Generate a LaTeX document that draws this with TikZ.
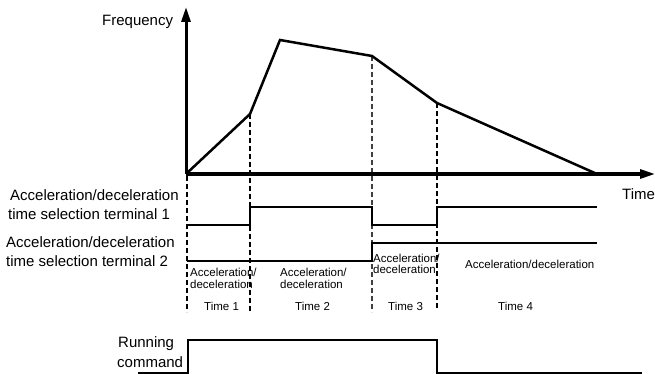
\documentclass[tikz,border=0pt]{standalone}
\usepackage{fontspec}
\setmainfont{Liberation Sans}
\usetikzlibrary{arrows.meta}
\tikzset{
  axis/.style={line width=3pt,-{Triangle[length=15pt,width=9pt]}},
  curve/.style={line width=2.5pt,line join=miter},
  guide/.style={line width=2pt,dash pattern=on 5pt off 3pt},
  guidegray/.style={line width=1.6pt,dash pattern=on 5pt off 3pt,black!75},
  sig/.style={line width=1.5pt},
  big/.style={inner sep=0pt,anchor=base west,font=\fontsize{15}{18}\selectfont},
  small/.style={inner sep=0pt,anchor=base west,font=\fontsize{11.5}{13}\selectfont},
}
\begin{document}
\begin{tikzpicture}[x=1pt,y=-1pt]
\useasboundingbox (0,0) rectangle (655,374);
% key points
\coordinate (O) at (186,174);
\coordinate (ytop) at (186,7);
\coordinate (xend) at (655,174);
\coordinate (p1) at (250,114);
\coordinate (p2) at (280,40);
\coordinate (p3) at (372,56);
\coordinate (p4) at (437,103);
\coordinate (p5) at (597,174);
\coordinate (d0t) at (187,176);
\coordinate (d0b) at (187,312);
\coordinate (d1b) at (250,312);
\coordinate (d3b) at (372,312);
\coordinate (d4b) at (437,310);
% guides
\draw[guide] (d0t) -- (d0b);
\draw[guide] (p1) -- (d1b);
\draw[guidegray] (p3) -- (d3b);
\draw[guide] (p4) -- (d4b);
% axes
\draw[axis] (O) -- (ytop);
\draw[axis] (O) -- (xend);
% frequency curve
\draw[curve] (O) -- (p1) -- (p2) -- (p3) -- (p4) -- (p5);
% terminal 1
\coordinate (a0) at (187,225);
\coordinate (a1) at (597,207);
\draw[sig] (a0) -- (250,225) -- (250,207) -- (372,207) -- (372,225) -- (437,225) -- (437,207) -- (a1);
% terminal 2
\coordinate (b0) at (187,261);
\coordinate (b1) at (597,243);
\draw[sig] (b0) -- (372,261) -- (372,243) -- (b1);
% running command
\coordinate (r0) at (138,373);
\coordinate (r1) at (642,373);
\draw[sig] (r0) -- (188,373) -- (188,340) -- (437,340) -- (437,373) -- (r1);
% labels
\node[big] (freq) at (102,25.5) {Frequency};
\node[big] (time) at (622,199) {Time};
\node[big] (t1a) at (10,200.5) {Acceleration/deceleration};
\node[big] (t1b) at (8,219.5) {time selection terminal 1};
\node[big] (t2a) at (6,247) {Acceleration/deceleration};
\node[big] (t2b) at (6,266) {time selection terminal 2};
\node[big] (run1) at (118,347) {Running};
\node[big] (run2) at (117,367) {command};
\node[small] (l1a) at (190,276) {Acceleration/};
\node[small] (l1b) at (190,288) {deceleration};
\node[small] (l1c) at (204,310) {Time 1};
\node[small] (l2a) at (280,276) {Acceleration/};
\node[small] (l2b) at (280,288) {deceleration};
\node[small] (l2c) at (295,310) {Time 2};
\node[small] (l3a) at (373,262) {Acceleration/};
\node[small] (l3b) at (373,273.5) {deceleration};
\node[small] (l3c) at (388,310) {Time 3};
\node[small] (l4a) at (465,268) {Acceleration/deceleration};
\node[small] (l4c) at (498,310) {Time 4};
\end{tikzpicture}
\end{document}
